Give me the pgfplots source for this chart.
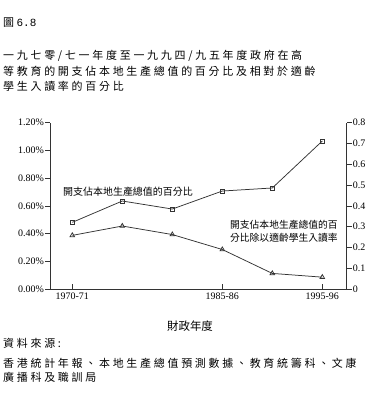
\documentclass[border=0pt]{standalone}
\usepackage{pgfplots}
\pgfplotsset{compat=1.18}
\usepackage{fontspec}
\setmainfont{Liberation Serif}
\newfontfamily\cjk{Noto Sans CJK TC}
\newfontfamily\cjks[LetterSpace=25]{Noto Sans CJK TC}
\newfontfamily\monof{Liberation Mono}
\pgfplotsset{common/.style={at={(50bp,-289bp)}, anchor=south west, scale only axis,
  width=296.7bp, height=166.3bp, xmin=1967.77, xmax=1997.44, clip=false,
  every tick label/.append style={font=\fontsize{10}{12}\selectfont},
  tick style={black!80, line width=0.6bp},
  axis line style={black!80, line width=0.8bp, -},
  major tick length=5bp}}
\begin{document}
\begin{tikzpicture}[x=1bp,y=1bp]
\useasboundingbox (0,0) rectangle (390,-400);
% titles
\node[anchor=west,inner sep=0] at (3,-23) {\fontsize{11}{13}\cjk 圖\ \monof 6.8};
\node[anchor=west,inner sep=0] at (3,-56) {\fontsize{11}{13}\cjks 一九七零/七一年度至一九九四/九五年度政府在高};
\node[anchor=west,inner sep=0] at (3,-71) {\fontsize{11}{13}\cjks 等教育的開支佔本地生產總值的百分比及相對於適齡};
\node[anchor=west,inner sep=0] at (3,-86) {\fontsize{11}{13}\cjks 學生入讀率的百分比};
% left axis
\begin{axis}[common, ymin=0, ymax=1.2, axis y line*=left, hide x axis, tick align=outside,
  ytick={0,0.2,0.4,0.6,0.8,1.0,1.2},
  yticklabels={0.00\%,0.20\%,0.40\%,0.60\%,0.80\%,1.00\%,1.20\%},
  yticklabel style={inner sep=1pt}]
\addplot[black!80, line width=0.75bp, mark=square, mark size=2bp, mark options={solid, fill=white}]
  coordinates {(1970,0.481)(1975,0.635)(1980,0.577)(1985,0.707)(1990,0.729)(1995,1.068)};
\end{axis}
% right axis
\begin{axis}[common, ymin=0, ymax=0.8, axis y line*=right, hide x axis, tick align=outside,
  ytick={0,0.1,0.2,0.3,0.4,0.5,0.6,0.7,0.8},
  yticklabels={0,0.1,0.2,0.3,0.4,0.5,0.6,0.7,0.8},
  yticklabel style={inner sep=1pt}]
\addplot[black!80, line width=0.75bp, mark=triangle, mark size=2.6bp, mark options={solid, fill=white}]
  coordinates {(1970,0.258)(1975,0.303)(1980,0.262)(1985,0.190)(1990,0.075)(1995,0.057)};
\end{axis}
% x axis
\begin{axis}[common, ymin=0, ymax=1, hide y axis, axis x line*=bottom, tick align=inside,
  xtick={1970,1985,1995}, xticklabels={1970-71,1985-86,1995-96},
  xticklabel style={inner sep=1pt, yshift=-3bp}]
\end{axis}
% series labels
\node[inner sep=0, font=\fontsize{10}{12}\cjk] at (128,-191.7) {開支佔本地生產總值的百分比};
\node[inner sep=0, anchor=west, align=left, font=\fontsize{9.8}{13.4}\cjk] at (230,-231) {開支佔本地生產總值的百\\分比除以適齡學生入讀率};
% axis label
\node[inner sep=0, font=\fontsize{11.5}{13}\cjk] at (190,-326) {財政年度};
% footer
\node[anchor=west,inner sep=0] at (3,-343) {\fontsize{11}{13}\cjks 資料來源:};
\node[anchor=west,inner sep=0] at (3,-363) {\fontsize{11}{13}\cjks 香港統計年報、本地生產總值預測數據、教育統籌科、文康};
\node[anchor=west,inner sep=0] at (3,-377) {\fontsize{11}{13}\cjks 廣播科及職訓局};
\end{tikzpicture}
\end{document}
